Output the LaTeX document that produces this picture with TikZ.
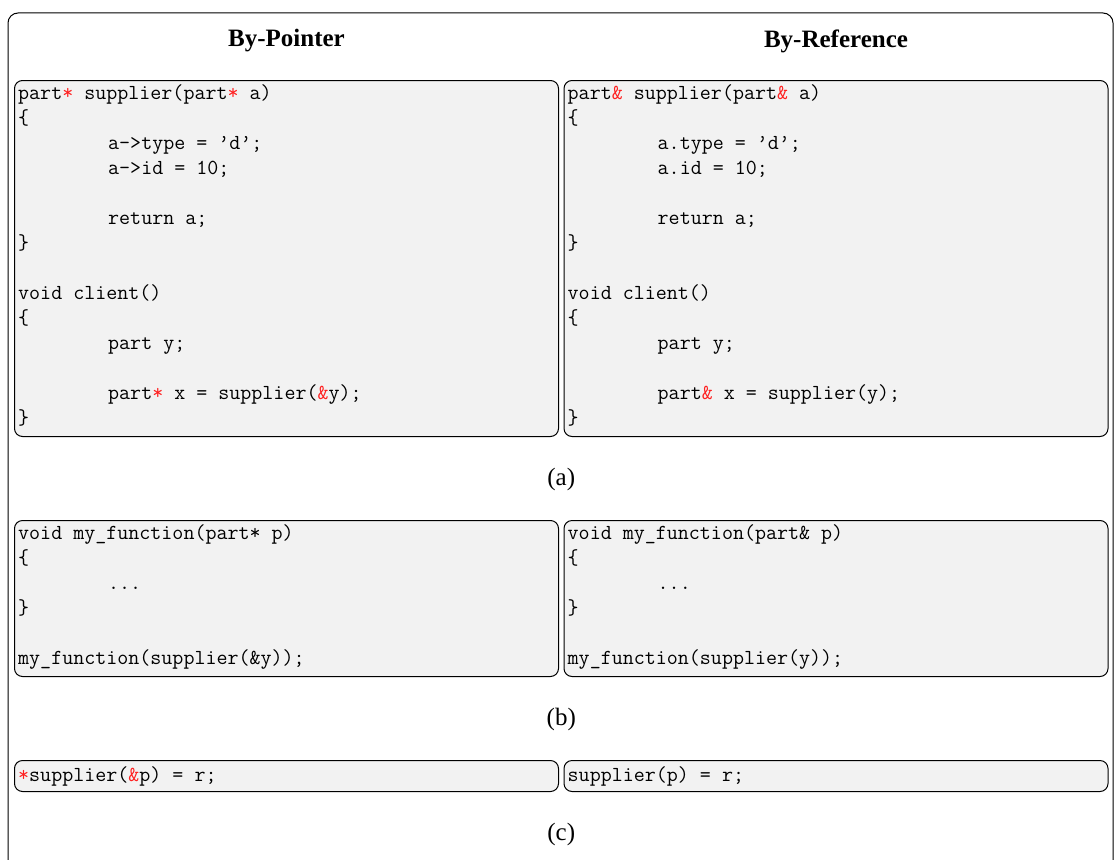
\documentclass[tikz,border=0pt]{standalone}
\usepackage{fontspec}
\usepackage{tikz}
\usetikzlibrary{calc, positioning}
\newfontfamily\serifhead{Liberation Serif}
\definecolor{boxgray}{HTML}{F2F2F2}
\definecolor{codered}{HTML}{FF2020}
\newcommand{\codefont}{\fontsize{21.4pt}{25pt}\selectfont\ttfamily}
\newcommand{\kw}[1]{\textcolor{codered}{#1}}
\newcommand{\codeindent}{\hspace*{90pt}}
\tikzstyle{codebox} = [draw=black, line width=1pt, rounded corners=8pt, fill=boxgray, inner sep=0pt, anchor=north west]
\tikzstyle{code} = [anchor=north west, inner sep=0pt, align=left, font=\codefont]
\tikzstyle{head} = [font=\serifhead\bfseries\fontsize{25pt}{30pt}\selectfont]
\tikzstyle{subcap} = [font=\serifhead\fontsize{25pt}{30pt}\selectfont]
\begin{document}
\begin{tikzpicture}[x=1pt, y=-1pt]
	\useasboundingbox (0,0) rectangle (1115,859);
	\draw[line width=1pt, rounded corners=10pt] (8,13) rectangle (1113,890);
	% (a)
	\node[codebox, minimum width=544pt, minimum height=356pt] (ptrA) at (14,80) {};
	\node[codebox, minimum width=544pt, minimum height=356pt] (refA) at (563.5,80) {};
	\node[head] (ptrhead) at ($(ptrA.north)+(0,-39)$) {By-Pointer};
	\node[head] (refhead) at ($(refA.north)+(0,-39)$) {By-Reference};
	\node[code] (ptrAcode) at (18,81.5) {\strut part\kw{*} supplier(part\kw{*} a)\\
		\{\\
		\codeindent a->type = ’d’;\\
		\codeindent a->id = 10;\\
		\strut\\
		\codeindent return a;\\
		\}\\
		\strut\\
		void client()\\
		\{\\
		\codeindent part y;\\
		\strut\\
		\codeindent part\kw{*} x = supplier(\kw{\&}y);\\
		\}};
	\node[code] (refAcode) at (567.5,81.5) {\strut part\kw{\&} supplier(part\kw{\&} a)\\
		\{\\
		\codeindent a.type = ’d’;\\
		\codeindent a.id = 10;\\
		\strut\\
		\codeindent return a;\\
		\}\\
		\strut\\
		void client()\\
		\{\\
		\codeindent part y;\\
		\strut\\
		\codeindent part\kw{\&} x = supplier(y);\\
		\}};
	\node[subcap] (capA) at ($(ptrA.south)!0.5!(refA.south)+(0,42)$) {(a)};
	% (b)
	\node[codebox, minimum width=544pt, minimum height=156pt] (ptrB) at (14,520) {};
	\node[codebox, minimum width=544pt, minimum height=156pt] (refB) at (563.5,520) {};
	\node[code] (ptrBcode) at (18,521.5) {\strut void my\_function(part* p)\\
		\{\\
		\codeindent ...\\
		\}\\
		\strut\\
		my\_function(supplier(\&y));};
	\node[code] (refBcode) at (567.5,521.5) {\strut void my\_function(part\& p)\\
		\{\\
		\codeindent ...\\
		\}\\
		\strut\\
		my\_function(supplier(y));};
	\node[subcap] (capB) at ($(ptrB.south)!0.5!(refB.south)+(0,42)$) {(b)};
	% (c)
	\node[codebox, minimum width=544pt, minimum height=31pt] (ptrC) at (14,760) {};
	\node[codebox, minimum width=544pt, minimum height=31pt] (refC) at (563.5,760) {};
	\node[code] (ptrCcode) at (18,763.5) {\strut\kw{*}supplier(\kw{\&}p) = r;};
	\node[code] (refCcode) at (567.5,763.5) {\strut supplier(p) = r;};
	\node[subcap] (capC) at ($(ptrC.south)!0.5!(refC.south)+(0,42)$) {(c)};
\end{tikzpicture}
\end{document}
